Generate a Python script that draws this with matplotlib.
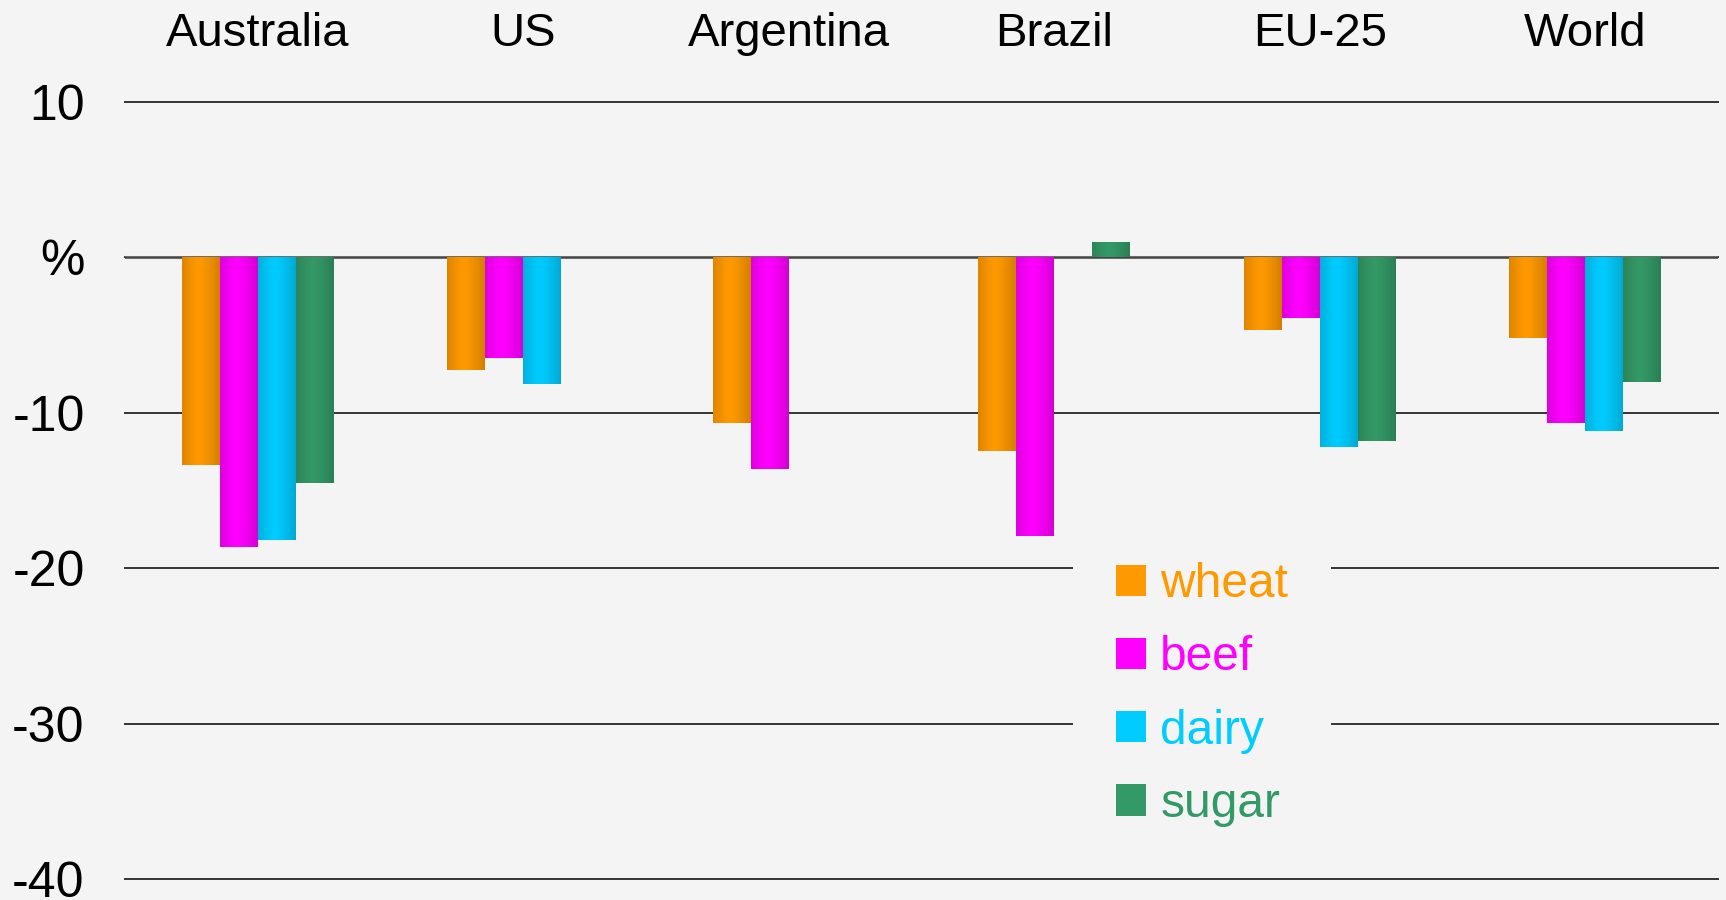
import numpy as np
import matplotlib
matplotlib.use("Agg")
import matplotlib.pyplot as plt
from matplotlib.colors import to_rgb
from matplotlib.patches import Patch

# ---- data ----
regions = ["Australia", "US", "Argentina", "Brazil", "EU-25", "World"]
series = ["wheat", "beef", "dairy", "sugar"]
wheat = [-13.35, -7.25, -10.65, -12.45, -4.7, -5.2]
beef = [-18.6, -6.5, -13.6, -17.95, -3.9, -10.65]
dairy = [-18.2, -8.15, np.nan, np.nan, -12.2, -11.15]
sugar = [-14.5, np.nan, np.nan, 1.0, -11.8, -8.0]
values = [wheat, beef, dairy, sugar]
colors = ["#FF9900", "#FF00FF", "#00CCFF", "#339966"]
yticks = [10, 0, -10, -20, -30, -40]
ytick_labels = ["10", "%", "-10", "-20", "-30", "-40"]

BG = "#F4F4F4"
plt.rcParams["font.family"] = ["Liberation Sans", "DejaVu Sans"]

W, H = 1726, 900
fig = plt.figure(figsize=(W / 100, H / 100), dpi=100, facecolor=BG)
ax = fig.add_axes([125 / W, 1 - 879.5 / H, (1718 - 125) / W, (879.5 - 101.6) / H])
ax.set_facecolor(BG)

x = np.arange(len(regions))
bw = 38 / 265.5

def gradient_img(color, n=64):
    c = np.array(to_rgb(color))
    t = np.linspace(0, 1, n)
    f = 1 - 0.15 * np.abs(2 * t - 0.9) ** 1.3
    img = np.clip(c[None, :] * f[:, None], 0, 1)
    return img[None, :, :]

for i, (vals, col) in enumerate(zip(values, colors)):
    vals = np.array(vals, dtype=float)
    bars = ax.bar(x + (i - 1.5) * bw, np.nan_to_num(vals), width=bw, color=col,
                  zorder=3, linewidth=0)
    for b, v in zip(bars, vals):
        if np.isnan(v):
            continue
        x0, y0 = b.get_x(), b.get_y()
        w, h = b.get_width(), b.get_height()
        im = ax.imshow(gradient_img(col), extent=(x0, x0 + w, min(y0, y0 + h), max(y0, y0 + h)),
                       aspect="auto", zorder=3.5, interpolation="bilinear")
        im.set_clip_path(b)

ax.set_xlim(-0.5, len(regions) - 0.5)
ax.set_ylim(-40, 10)

# gridlines
for yv in yticks:
    ax.axhline(yv, color="#333333", linewidth=1.4, zorder=1, clip_on=False)
ax.axhline(0, color="#777777", linewidth=2.2, zorder=2.5)
ax.axhline(0, color="#444444", linewidth=1.0, zorder=2.6)

for s in ax.spines.values():
    s.set_visible(False)

ax.set_yticks(yticks)
ax.set_yticklabels(ytick_labels)
ax.tick_params(axis="y", length=0, pad=29, labelsize=36, labelcolor="black")

ax.set_xticks(x)
ax.set_xticklabels(regions)
ax.xaxis.tick_top()
ax.tick_params(axis="x", length=0, pad=33, labelsize=34, labelcolor="black")

handles = [Patch(facecolor=c, edgecolor="none") for c in colors]
leg = ax.legend(handles, series, loc="upper left",
                bbox_to_anchor=(1073 / W, 1 - 519 / H), bbox_transform=fig.transFigure,
                borderaxespad=0, fontsize=34.5, frameon=True, facecolor=BG, edgecolor="none",
                framealpha=1, handlelength=0.63, handleheight=0.63, handletextpad=0.29,
                borderpad=0.9, labelspacing=0.59)
leg.set_zorder(5)
for t, c in zip(leg.get_texts(), colors):
    t.set_color(c)

fig.savefig("out.png", dpi=100, facecolor=BG)
